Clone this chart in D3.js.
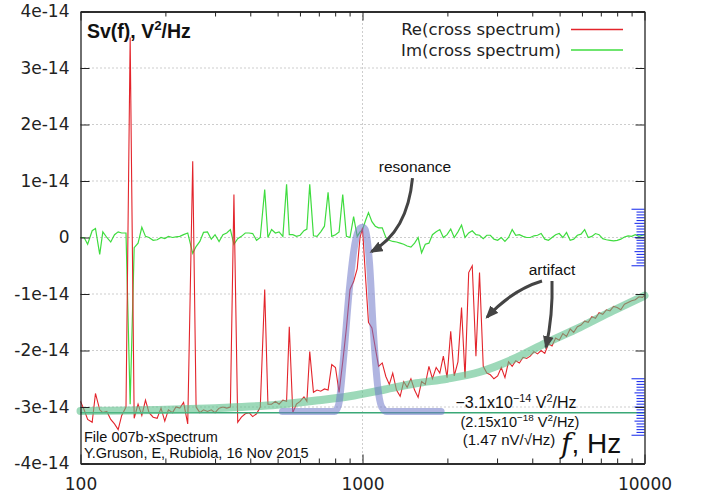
<!DOCTYPE html>
<html>
<head>
<meta charset="utf-8">
<script src="https://cdn.jsdelivr.net/npm/d3@7"></script>
<style>
  body { margin: 0; background: #fff; }
  svg { display: block; }
  .tick text { font-family: "DejaVu Sans", sans-serif; font-size: 17px; fill: #222; }
</style>
</head>
<body>
<div id="chart"></div>
<script>
// frequency grid, Hz
const freq = [
  100, 103, 106, 110, 113, 117, 120, 124, 128, 132,
  136, 140, 145, 150, 155, 160, 165, 170, 175, 181,
  187, 193, 199, 205, 212, 218, 225, 232, 240, 250,
  257, 265, 273, 282, 291, 300, 310, 320, 330, 340,
  350, 361, 372, 384, 396, 408, 421, 434, 450, 462,
  476, 491, 506, 522, 538, 550, 566, 583, 601, 620,
  635, 650, 670, 690, 711, 733, 755, 778, 802, 826,
  851, 877, 903, 930, 958, 980, 1000, 1025, 1050, 1080,
  1110, 1140, 1175, 1210, 1245, 1280, 1320, 1360, 1400, 1440,
  1485, 1530, 1575, 1620, 1670, 1720, 1770, 1825, 1880, 1935,
  1995, 2055, 2115, 2180, 2245, 2310, 2380, 2450, 2525, 2600,
  2680, 2760, 2840, 2925, 3015, 3105, 3200, 3295, 3395, 3495,
  3600, 3710, 3820, 3935, 4055, 4175, 4300, 4430, 4565, 4700,
  4840, 4985, 5135, 5290, 5450, 5610, 5780, 5955, 6135, 6315,
  6505, 6700, 6900, 7110, 7325, 7545, 7770, 8000, 8240, 8490,
  8745, 9005, 9275, 9555, 9840, 10000
];

// Re(cross spectrum), units of 1e-14 V^2/Hz
const reSpec = [
  -2.9, -3.05, -3.22, -3.27, -2.76, -3.05, -3.1, -3.08, -3.22, -3.3,
  -3.4, -3.15, -3.0, 3.54, -3.2, -2.95, -3.15, -2.88, -3.1, -3.18,
  -3.2, -3.02, -3.25, -3.05, -3.1, -3.0, -3.02, -2.92, -3.3, 1.35,
  -3.0, -3.1, -3.05, -3.08, -3.05, -3.1, -3.02, -3.0, -3.02, -3.0,
  0.76, -3.27, -3.18, -3.12, -3.1, -3.17, -3.12, -3.0, -0.92, -2.95,
  -2.95, -2.9, -2.95, -2.88, -2.9, -1.58, -3.1, -2.95, -2.9, -2.82,
  -2.9, -2.02, -2.74, -2.7, -2.72, -2.68, -2.7, -2.25, -2.3, -2.74,
  -2.2, -1.6, -0.92, -0.78, -0.55, 0.0, 0.17, -0.7, -1.5, -1.6,
  -1.95, -2.28, -2.22, -2.46, -2.6, -2.4, -2.7, -2.81, -2.55, -2.65,
  -2.5, -2.7, -2.83, -2.55, -2.6, -2.28, -2.5, -2.3, -2.4, -2.1,
  -2.48, -1.66, -2.45, -2.2, -1.24, -2.48, -0.62, -0.5, -2.1, -0.62,
  -2.28, -2.4, -2.43, -2.5, -2.45, -2.3, -2.48, -2.2, -2.28, -2.18,
  -2.22, -2.12, -2.14, -2.1, -2.02, -2.06, -2.0, -2.05, -1.88, -1.92,
  -1.78, -1.82, -1.7, -1.75, -1.62, -1.68, -1.58, -1.55, -1.48, -1.5,
  -1.4, -1.43, -1.33, -1.36, -1.28, -1.3, -1.22, -1.24, -1.28, -1.18,
  -1.15, -1.12, -1.1, -1.05, -1.06, -1.02
];

// Im(cross spectrum), units of 1e-14 V^2/Hz
const imSpec = [
  0.0, 0.0, -0.12, 0.12, 0.16, -0.3, 0.1, 0.0, -0.08, 0.05,
  0.1, 0.08, 0.08, -2.95, -0.18, -0.1, 0.18, 0.02, 0.0, -0.05,
  -0.04, 0.0, -0.02, 0.02, 0.0, 0.01, 0.02, 0.05, 0.08, -0.28,
  -0.16, -0.07, 0.09, 0.1, -0.03, 0.05, -0.07, 0.05, 0.08, 0.14,
  -0.12, -0.02, 0.02, 0.08, 0.08, 0.07, -0.05, 0.0, 0.85, 0.0,
  0.14, 0.08, 0.1, 0.02, 0.94, 0.05, 0.05, 0.02, 0.04, 0.12,
  0.15, 0.94, 0.03, 0.02, 0.1, 0.2, 0.8, 0.02, 0.05, 0.1,
  0.76, 0.02, 0.0, 0.37, 0.02, 0.1, 0.14, 0.3, 0.44, 0.28,
  0.2, 0.17, 0.17, 0.0, -0.05, -0.07, -0.08, -0.1, -0.12, -0.15,
  -0.17, -0.1, 0.0, -0.27, -0.12, -0.1, 0.05, 0.1, 0.14, 0.0,
  0.05, 0.15, 0.0, 0.1, 0.22, 0.0, 0.08, 0.12, 0.05, 0.04,
  -0.02, 0.04, 0.04, -0.03, -0.05, 0.0, -0.07, 0.0, 0.14, 0.04,
  0.05, 0.02, 0.0, 0.0, 0.03, 0.04, 0.07, -0.03, -0.05, 0.0,
  0.05, 0.07, 0.0, 0.09, -0.05, -0.03, 0.04, 0.06, 0.14, 0.0,
  0.02, 0.07, 0.05, -0.02, -0.04, -0.05, -0.06, -0.05, -0.03, 0.01,
  0.03, 0.02, 0.05, 0.02, 0.04, 0.05
];

// hand-drawn background trend (light green band)
const trendFreq = [100, 200, 300, 500, 700, 900, 1200, 1550, 2000, 2600, 3400, 4500, 5900, 7700, 10000];
const trendVal = [-3.07, -3.05, -3.02, -2.96, -2.88, -2.81, -2.69, -2.58, -2.5, -2.38, -2.16, -1.86, -1.59, -1.3, -1.03];

// hand-drawn resonance shape (lavender band)
const resFreq = [520, 796, 823, 856, 898, 939, 979, 1000, 1022, 1060, 1092, 1130, 1170, 1220, 1900];
const resVal = [-3.08, -3.08, -2.96, -2.16, -0.92, -0.12, 0.16, 0.18, 0.14, -0.48, -1.63, -2.6, -3.0, -3.08, -3.08];

const floorLevel = -3.1;
const rulerCenters = [0, -3];

const yTicks = [-4, -3, -2, -1, 0, 1, 2, 3, 4];
const xMajor = [100, 1000, 10000];
const xMinor = [200, 300, 400, 500, 600, 700, 800, 900, 2000, 3000, 4000, 5000, 6000, 7000, 8000, 9000];
const legendLabels = ["Re(cross spectrum)", "Im(cross spectrum)"];
const colors = { re: "#e3242b", im: "#3fdc3f" };

// arrows: [from, control, to] as [Hz, 1e-14 V^2/Hz]
const arrows = [
  [[1504, 1.05], [1444, 0.1], [1076, -0.25]],
  [[4330, -0.77], [3390, -0.93], [2764, -1.41]],
  [[4699, -0.77], [4738, -1.37], [4475, -1.94]]
];

const W = 704, H = 497;
const M = { left: 80.5, right: 644.5, top: 11.5, bottom: 463.5 };

const x = d3.scaleLog().domain([100, 10000]).range([M.left, M.right]);
const y = d3.scaleLinear().domain([-4, 4]).range([M.bottom, M.top]);

const svg = d3.select("#chart").append("svg")
  .attr("width", W).attr("height", H);

// grid
const grid = svg.append("g")
  .attr("stroke", "#9a9a9a").attr("stroke-width", 1).attr("stroke-dasharray", "1,3");
grid.selectAll("line.gy").data(yTicks.filter(v => v > -4 && v < 4)).join("line")
  .attr("x1", M.left).attr("x2", M.right)
  .attr("y1", d => y(d)).attr("y2", d => y(d));
grid.append("line")
  .attr("x1", x(1000)).attr("x2", x(1000))
  .attr("y1", M.top).attr("y2", M.bottom);

// data lines
const line = d3.line().x(d => x(d.f)).y(d => y(d.v));
const imData = freq.map((f, i) => ({ f, v: imSpec[i] }));
const reData = freq.map((f, i) => ({ f, v: reSpec[i] }));

svg.append("path").datum(imData)
  .attr("fill", "none").attr("stroke", colors.im).attr("stroke-width", 1.2)
  .attr("d", line);
svg.append("path").datum(reData)
  .attr("fill", "none").attr("stroke", colors.re).attr("stroke-width", 1.1)
  .attr("d", line);

// floor level line
svg.append("line")
  .attr("x1", M.left).attr("x2", M.right)
  .attr("y1", y(floorLevel)).attr("y2", y(floorLevel))
  .attr("stroke", "#3aa877").attr("stroke-width", 1.5);

// hand-drawn bands
const smooth = d3.line().x(d => x(d.f)).y(d => y(d.v)).curve(d3.curveMonotoneX);
svg.append("path").datum(trendFreq.map((f, i) => ({ f, v: trendVal[i] })))
  .attr("fill", "none").attr("stroke", "#5cc08a").attr("stroke-opacity", 0.6)
  .attr("stroke-width", 8).attr("stroke-linecap", "round")
  .attr("d", smooth);
svg.append("path").datum(resFreq.map((f, i) => ({ f, v: resVal[i] })))
  .attr("fill", "none").attr("stroke", "#7078c8").attr("stroke-opacity", 0.55)
  .attr("stroke-width", 7).attr("stroke-linecap", "round").attr("stroke-linejoin", "round")
  .attr("d", smooth);

// blue rulers on the right edge
rulerCenters.forEach(c => {
  const ticks = d3.range(-10, 11).map(i => ({ i, v: c + i * 0.05 }));
  svg.append("g").selectAll("line").data(ticks).join("line")
    .attr("x1", d => M.right - (Math.abs(d.i) === 10 ? 13 : d.i % 5 === 0 ? 10 : 8))
    .attr("x2", M.right)
    .attr("y1", d => y(d.v)).attr("y2", d => y(d.v))
    .attr("stroke", "#2436ee").attr("stroke-width", 1.1);
});

// axes
const fmtY = v => v === 0 ? "0" : v + "e-14";
svg.append("g").attr("transform", `translate(${M.left},0)`)
  .call(d3.axisLeft(y).tickValues(yTicks).tickFormat(fmtY).tickSize(-9).tickSizeOuter(0).tickPadding(11));
svg.append("g").attr("transform", `translate(${M.right},0)`)
  .call(d3.axisRight(y).tickValues(yTicks).tickFormat("").tickSize(-9).tickSizeOuter(0));
svg.append("g").attr("transform", `translate(0,${M.bottom})`)
  .call(d3.axisBottom(x).tickValues(xMajor).tickFormat(d3.format("d")).tickSize(-9).tickSizeOuter(0).tickPadding(14));
svg.append("g").attr("transform", `translate(0,${M.bottom})`)
  .call(d3.axisBottom(x).tickValues(xMinor).tickFormat("").tickSize(-5).tickSizeOuter(0));
svg.append("g").attr("transform", `translate(0,${M.top})`)
  .call(d3.axisTop(x).tickValues(xMajor).tickFormat("").tickSize(-9).tickSizeOuter(0));
svg.append("g").attr("transform", `translate(0,${M.top})`)
  .call(d3.axisTop(x).tickValues(xMinor).tickFormat("").tickSize(-5).tickSizeOuter(0));
svg.selectAll(".domain, .tick line").attr("stroke", "#222");
svg.selectAll(".domain").attr("stroke-width", 1.3);

// legend
const legend = svg.append("g");
legendLabels.forEach((t, i) => {
  legend.append("text")
    .attr("x", 561).attr("y", 35 + i * 20.5)
    .attr("text-anchor", "end")
    .style("font-family", "DejaVu Sans, sans-serif").style("font-size", "16.5px").style("fill", "#222")
    .text(t);
  legend.append("line")
    .attr("x1", 571).attr("x2", 623)
    .attr("y1", 29.5 + i * 20.5).attr("y2", 29.5 + i * 20.5)
    .attr("stroke", i === 0 ? colors.re : colors.im).attr("stroke-width", 1.3);
});

// text with superscripts
function richText(g, px, py, parts, size, anchor, weight) {
  const t = g.append("text")
    .attr("x", px).attr("y", py)
    .attr("text-anchor", anchor || "start")
    .style("font-family", "Liberation Sans, Arial, sans-serif")
    .style("font-size", size + "px")
    .style("font-weight", weight || "normal")
    .style("fill", "#111");
  let up = false;
  parts.forEach(p => {
    const sup = typeof p !== "string";
    const s = t.append("tspan").text(sup ? p.sup : p);
    if (sup && !up) { s.attr("dy", -size * 0.4).style("font-size", (size * 0.68) + "px"); up = true; }
    else if (!sup && up) { s.attr("dy", size * 0.4); up = false; }
    else if (sup) { s.style("font-size", (size * 0.68) + "px"); }
  });
  return t;
}

richText(svg, 87, 38, ["Sv(f), V", { sup: "2" }, "/Hz"], 19.5, "start", "bold");
richText(svg, 516, 408, ["\u22123.1x10", { sup: "\u221214" }, " V", { sup: "2" }, "/Hz"], 16, "middle");
richText(svg, 520, 427, ["(2.15x10", { sup: "\u221218" }, " V", { sup: "2" }, "/Hz)"], 14.5, "middle");
richText(svg, 509, 445, ["(1.47 nV/\u221AHz)"], 15, "middle");
richText(svg, 84, 442, ["File 007b-xSpectrum"], 14.5);
richText(svg, 84, 458, ["Y.Gruson, E, Rubiola, 16 Nov 2015"], 14.5);
richText(svg, 415, 172, ["resonance"], 15.5, "middle");
richText(svg, 552, 275, ["artifact"], 15.5, "middle");

const fz = svg.append("text").attr("x", 561).attr("y", 453)
  .style("font-size", "28px").style("fill", "#111");
fz.append("tspan").text("f")
  .style("font-family", "DejaVu Serif, serif").style("font-style", "italic");
fz.append("tspan").text(", Hz")
  .style("font-family", "Liberation Sans, Arial, sans-serif");

// arrows
svg.append("defs").append("marker")
  .attr("id", "head").attr("viewBox", "0 -5 12 10")
  .attr("refX", 10).attr("refY", 0)
  .attr("markerUnits", "userSpaceOnUse")
  .attr("markerWidth", 13).attr("markerHeight", 11)
  .attr("orient", "auto")
  .append("path").attr("d", "M0,-5L12,0L0,5Z").attr("fill", "#444");

const arrowPath = a => {
  const p = a.map(d => [x(d[0]), y(d[1])]);
  return `M${p[0][0]},${p[0][1]}Q${p[1][0]},${p[1][1]} ${p[2][0]},${p[2][1]}`;
};
svg.append("g").selectAll("path").data(arrows).join("path")
  .attr("d", arrowPath)
  .attr("fill", "none").attr("stroke", "#444").attr("stroke-width", 3)
  .attr("marker-end", "url(#head)");
</script>
</body>
</html>
